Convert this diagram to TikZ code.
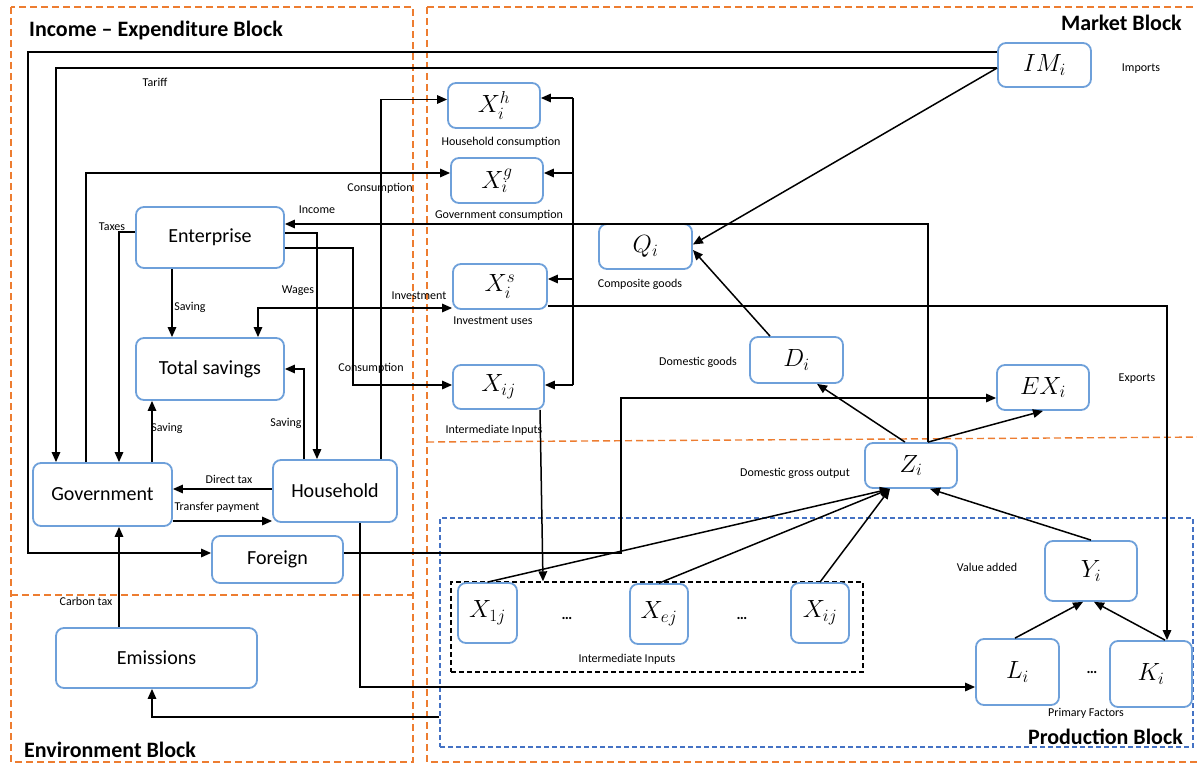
\documentclass[tikz,border=0pt]{standalone}
\usepackage{fontspec}
\setmainfont{Carlito}
\usetikzlibrary{arrows.meta,calc}
\definecolor{boxblue}{RGB}{110,160,218}
\definecolor{blockorange}{RGB}{237,125,49}
\definecolor{prodblue}{RGB}{68,114,196}
\begin{document}
\begin{tikzpicture}[x=1pt,y=-1pt,
  box/.style={draw=boxblue, line width=1.8pt, rounded corners=8pt, fill=white,
              inner sep=0pt, font=\fontsize{20}{24}\selectfont},
  mbox/.style={box, font=\fontsize{23}{27}\selectfont},
  arr/.style={-{Triangle[length=10pt,width=8.5pt]}, line width=1.5pt},
  arrboth/.style={{Triangle[length=10pt,width=8.5pt]}-{Triangle[length=10pt,width=8.5pt]}, line width=1.5pt},
  ln/.style={line width=1.5pt},
  lbl/.style={inner sep=0pt, font=\fontsize{12}{14}\selectfont},
  dots/.style={inner sep=0pt, font=\fontsize{15}{17}\selectfont\bfseries},
  blocktitle/.style={inner sep=0pt, font=\fontsize{22}{26}\selectfont\bfseries},
  orangeblock/.style={draw=blockorange, line width=1.4pt, dash pattern=on 7pt off 4pt},
]
\useasboundingbox (0,0) rectangle (1197,765);
\clip (0,0) rectangle (1197,765);

% ---- block frames (shared edges drawn once) ----
\draw[orangeblock] (11,7) rectangle (413,762);
\draw[orangeblock] (11,595) -- (413,595);
\draw[orangeblock] (427,7) rectangle (1210,762);
\draw[orangeblock] (427,442) -- (1210,437);
\node[draw=prodblue, line width=1.4pt, dash pattern=on 5pt off 3pt,
      minimum width=753pt, minimum height=229pt, inner sep=0pt] (prod) at (816.5,632.5) {};
\node[draw=black, line width=1.4pt, dash pattern=on 5pt off 3pt,
      minimum width=412pt, minimum height=90pt, inner sep=0pt] (inter) at (657,627) {};

% ---- block titles ----
\node[blocktitle, anchor=west] (tIE) at (29,31) {Income – Expenditure Block};
\node[blocktitle, anchor=east] (tMB) at (1182,23) {Market Block};
\node[blocktitle, anchor=west] (tEB) at (24,750) {Environment Block};
\node[blocktitle, anchor=east] (tPB) at (1183,737) {Production Block};

% ---- agents ----
\node[box, minimum width=148pt, minimum height=61pt] (ent) at (210,237.5) {Enterprise};
\node[box, minimum width=148pt, minimum height=62pt] (ts) at (210,369) {Total savings};
\node[box, minimum width=139pt, minimum height=63pt] (gov) at (102.5,494.5) {Government};
\node[box, minimum width=124pt, minimum height=62pt] (hh) at (335,491) {Household};
\node[box, minimum width=131pt, minimum height=47pt] (frgn) at (277.5,559.5) {Foreign};
\node[box, minimum width=201pt, minimum height=60pt] (emi) at (156.5,658) {Emissions};

% ---- market variables ----
\node[mbox, minimum width=92pt, minimum height=45pt] (xh) at (494,105.5) {$X_i^h$};
\node[mbox, minimum width=92pt, minimum height=45pt] (xg) at (497,180.5) {$X_i^g$};
\node[mbox, minimum width=94pt, minimum height=45pt] (xs) at (500,286.5) {$X_i^s$};
\node[mbox, minimum width=91pt, minimum height=44pt] (xij) at (498.5,387) {$X_{ij}$};
\node[mbox, minimum width=93pt, minimum height=45pt] (qi) at (645.5,246.5) {$Q_i$};
\node[mbox, minimum width=93pt, minimum height=44pt] (imi) at (1044.5,65) {$IM_i$};
\node[mbox, minimum width=93pt, minimum height=46pt] (di) at (796.5,360) {$D_i$};
\node[mbox, minimum width=92pt, minimum height=45pt] (exi) at (1043,387.5) {$EX_i$};

% ---- production variables ----
\node[mbox, minimum width=92pt, minimum height=45pt] (zi) at (911,465.5) {$Z_i$};
\node[mbox, minimum width=92pt, minimum height=60pt] (yi) at (1091,571) {$Y_i$};
\node[mbox, minimum width=83pt, minimum height=66pt] (li) at (1017.5,672) {$L_i$};
\node[mbox, minimum width=82pt, minimum height=66pt] (ki) at (1151,674) {$K_i$};
\node[mbox, minimum width=59pt, minimum height=60pt] (x1) at (487.5,613) {$X_{1j}$};
\node[mbox, minimum width=58pt, minimum height=60pt] (xe) at (659,614) {$X_{ej}$};
\node[mbox, minimum width=58pt, minimum height=60pt] (xi) at (820,613) {$X_{ij}$};
\node[dots] (dA) at (567,618) {…};
\node[dots] (dB) at (742,618) {…};
\node[dots] (dC) at (1092,672) {…};

% ---- labels ----
\node[lbl] (lTariff) at (155,82) {Tariff};
\node[lbl] (lCons1) at (380,188) {Consumption};
\node[lbl] (lIncome) at (317,210) {Income};
\node[lbl] (lTaxes) at (112,227) {Taxes};
\node[lbl] (lSav1) at (190,307) {Saving};
\node[lbl] (lWages) at (298,291) {Wages};
\node[lbl] (lInv) at (419,296) {Investment};
\node[lbl] (lCons2) at (371,368) {Consumption};
\node[lbl] (lSav2) at (167,428) {Saving};
\node[lbl] (lSav3) at (286,423) {Saving};
\node[lbl] (lDirect) at (229,479) {Direct tax};
\node[lbl] (lTransfer) at (217,507) {Transfer payment};
\node[lbl] (lCarbon) at (86,601) {Carbon tax};
\node[lbl] (lHC) at (501,142) {Household consumption};
\node[lbl] (lGC) at (499,215) {Government consumption};
\node[lbl] (lComp) at (640,284) {Composite goods};
\node[lbl] (lIU) at (493,321) {Investment uses};
\node[lbl] (lII1) at (494,430) {Intermediate Inputs};
\node[lbl] (lDG) at (698,362) {Domestic goods};
\node[lbl] (lExp) at (1137,379) {Exports};
\node[lbl] (lImp) at (1141,69) {Imports};
\node[lbl] (lDGO) at (795,473) {Domestic gross output};
\node[lbl] (lVA) at (987,567) {Value added};
\node[lbl] (lPF) at (1086,713) {Primary Factors};
\node[lbl] (lII2) at (627,659) {Intermediate Inputs};

% ---- routing lanes ----
\coordinate (laneA) at (28,300);
\coordinate (laneC) at (353,300);
\coordinate (laneD) at (621,450);
\coordinate (busTop) at (573,98);
\coordinate (busBot) at (573,385);

% ---- income and expenditure flows ----
\draw[arr] ([yshift=13pt]imi.west) -| (laneA) |- ([yshift=6.5pt]frgn.west);
\draw[arr] ([yshift=-3pt]imi.west) -- ([yshift=2pt]qi.east);
\draw[arr] ([yshift=-3pt]imi.west) -| ([xshift=-46.5pt]gov.north);
\draw[arr] ([xshift=-16.5pt]gov.north) |- ([yshift=7.5pt]xg.west);
\draw[arr] ([xshift=46pt]hh.north) |- ([yshift=6pt]xh.west);
\draw[arr] ([xshift=17pt]zi.north) |- ([yshift=13.5pt]ent.east);
\draw[arr] ([yshift=4.5pt]ent.east) -| ([xshift=-18pt]hh.north);
\draw[arr] ([yshift=-10.5pt]ent.east) -| (laneC) |- ([yshift=2pt]xij.west);
\draw[arr] ([yshift=5.5pt]ent.west) -| ([xshift=16.5pt]gov.north);
\draw[arr] ([xshift=-38pt]ent.south) -- ([xshift=-38pt]ts.north);
\draw[arrboth] ([xshift=48pt]ts.north) |- ([yshift=-21.5pt]xs.west);
\draw[arr] ([xshift=49.5pt]gov.north) -- ([xshift=-58pt]ts.south);
\draw[arr] ([xshift=-31pt]hh.north) |- (ts.east);
\coordinate (dt) at ([yshift=2pt]hh.west);
\draw[arr] (dt) -- (dt -| gov.east);
\coordinate (tp) at ([yshift=-26.5pt]gov.east);
\draw[arr] (tp) -- (tp -| hh.west);
\coordinate (ct) at ([xshift=16.5pt]gov.south);
\draw[arr] (ct |- emi.north) -- (ct);
\draw[arr] ([yshift=-84.5pt]prod.west) -| ([xshift=-4.5pt]emi.south);
\draw[arr] ([xshift=25pt]hh.south) |- ([yshift=-15pt]li.west);
\draw[arr] ([yshift=6.5pt]frgn.east) -| (laneD) |- ([yshift=-10.5pt]exi.west);
\draw[arr] ([yshift=-19.5pt]xs.east) -| ([xshift=16pt]ki.north);

% ---- distribution bus to the demand boxes ----
\draw[ln] (busTop) -- (busBot);
\draw[arr] (busTop) -- (busTop -| xh.east);
\coordinate (bg) at ([yshift=7.5pt]xg.east);
\draw[arr] (bg -| busTop) -- (bg);
\coordinate (bs) at ([yshift=7.5pt]xs.east);
\draw[arr] (bs -| busTop) -- (bs);
\draw[arr] (busBot) -- (busBot -| xij.east);

% ---- production flows ----
\draw[arr] ([xshift=41.5pt]xij.south) -- ([xshift=-114pt]inter.north);
\draw[arr] (x1.north) -- ([xshift=-21pt]zi.south);
\draw[arr] (xe.north) -- ([xshift=-21pt]zi.south);
\draw[arr] (xi.north) -- ([xshift=-21pt]zi.south);
\draw[arr] (yi.north) -- ([xshift=19pt]zi.south);
\draw[arr] ([xshift=-6pt]zi.north) -- ([xshift=20.5pt]di.south);
\draw[arr] ([xshift=17pt]zi.north) -- (exi.south);
\draw[arr] ([xshift=-26.5pt]di.north) -- ([yshift=-3.5pt]qi.east);
\draw[arr] ([xshift=-2.5pt]li.north) -- ([xshift=-8pt]yi.south);
\draw[arr] ([xshift=14pt]ki.north) -- ([xshift=3pt]yi.south);
\end{tikzpicture}
\end{document}
